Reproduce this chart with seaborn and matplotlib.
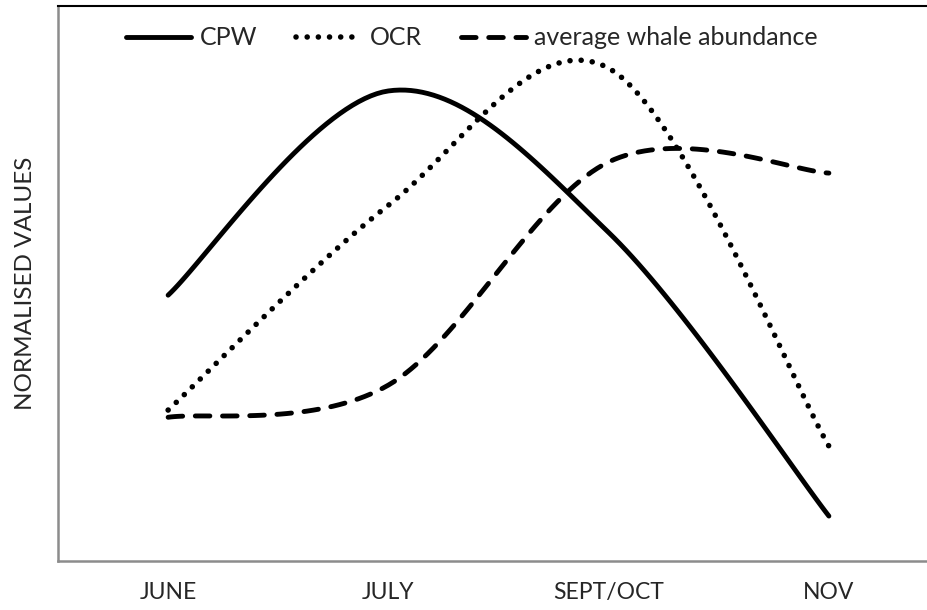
import numpy as np
import pandas as pd
import matplotlib
matplotlib.use("Agg")
import matplotlib.pyplot as plt
import seaborn as sns

# =========================
# DATA (normalised)
# =========================
months = ["JUNE", "JULY", "SEPT/OCT", "NOV"]
cpw = [0.479, 0.847, 0.592, 0.081]
ocr = [0.272, 0.641, 0.888, 0.207]
whale = [0.259, 0.317, 0.719, 0.699]


# Excel-style smoothed line: cubic bezier through every point
def smooth(xs, ys, n=40):
    p = np.column_stack([xs, ys]).astype(float)
    k = len(p)
    out = []
    for i in range(k - 1):
        p0 = p[max(i - 1, 0)]
        p1 = p[i]
        p2 = p[i + 1]
        p3 = p[min(i + 2, k - 1)]
        c1 = p1 + (p2 - p0) / 6
        c2 = p2 - (p3 - p1) / 6
        t = np.linspace(0, 1, n)[:, None]
        seg = ((1 - t) ** 3) * p1 + 3 * ((1 - t) ** 2) * t * c1 \
            + 3 * (1 - t) * t ** 2 * c2 + t ** 3 * p2
        out.append(seg if i == 0 else seg[1:])
    out = np.vstack(out)
    return out[:, 0], out[:, 1]


sns.set_style("white")
plt.rcParams["font.family"] = ["Lato", "DejaVu Sans"]

fig = plt.figure(figsize=(9.28, 6.10), dpi=100)
ax = fig.add_axes([0.0625, 0.0803, 0.9375, 0.9098])

x = np.arange(len(months))
series = [
    ("CPW", cpw, "-", 3.5),
    ("OCR", ocr, (0, (0.01, 2.0)), 4.0),
    ("average whale abundance", whale, (0, (3.0, 2.6)), 3.5),
]

for name, vals, ls, lw in series:
    sx, sy = smooth(x, vals)
    sns.lineplot(
        x=sx,
        y=sy,
        ax=ax,
        color="black",
        linewidth=lw,
        linestyle=ls,
        estimator=None,
        sort=False,
        label=name,
        dash_capstyle="round",
        solid_capstyle="round",
    )

ax.set_xlim(-0.5, 3.45)
ax.set_ylim(0, 1)
ax.set_xticks(x)
ax.set_xticklabels(months, fontsize=16.5)
ax.set_yticks([])
ax.tick_params(axis="x", length=0, pad=15)
ax.set_ylabel("NORMALISED VALUES", fontsize=17.5, labelpad=16)

for side in ["left", "bottom"]:
    ax.spines[side].set_color("#8c8c8c")
    ax.spines[side].set_linewidth(1.8)
ax.spines["top"].set_color("black")
ax.spines["top"].set_linewidth(1.5)
ax.spines["right"].set_visible(False)

ax.legend(
    loc="upper center",
    bbox_to_anchor=(0.476, 1.004),
    ncol=3,
    frameon=False,
    fontsize=18,
    handlelength=2.6,
    handletextpad=0.35,
    columnspacing=1.55,
)

fig.savefig("out.png", dpi=100)
